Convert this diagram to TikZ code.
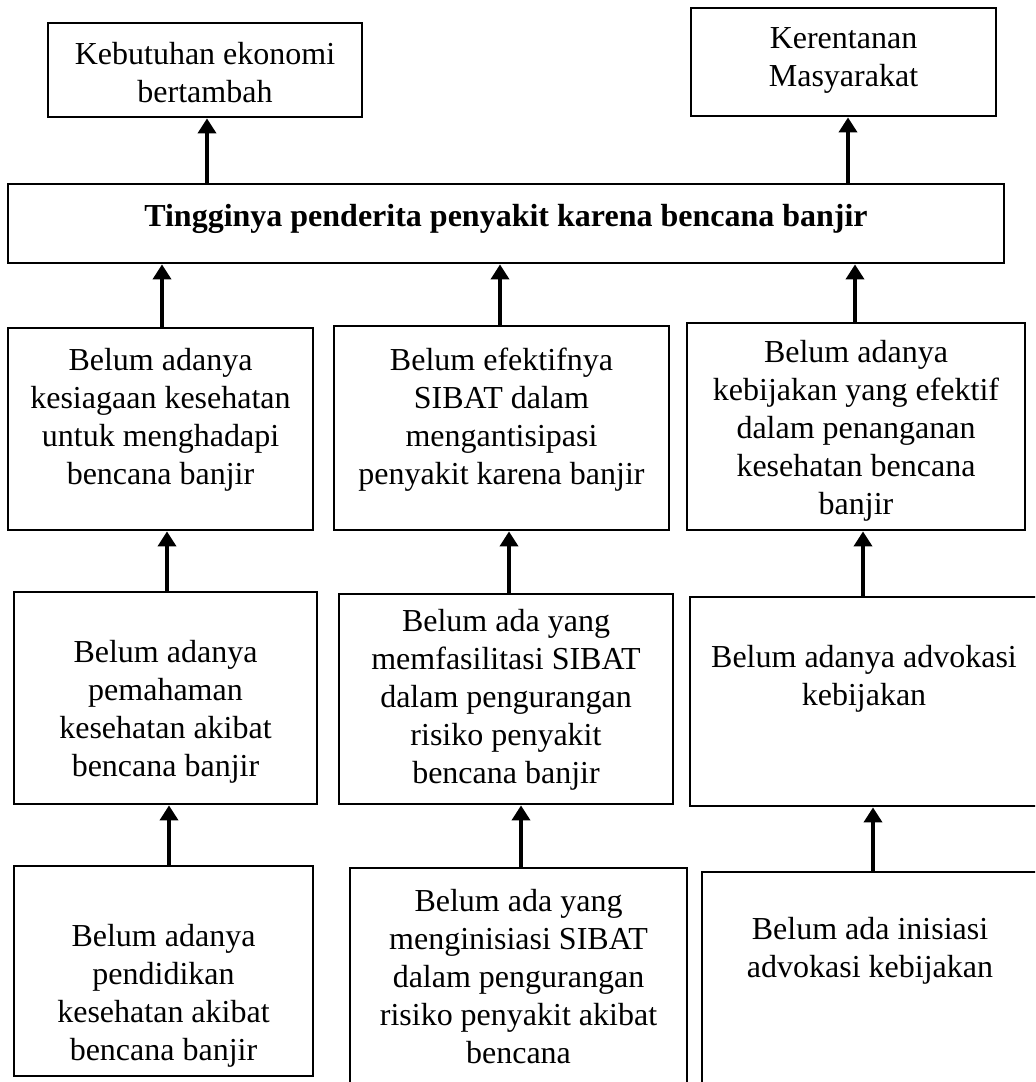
\documentclass[tikz,border=0pt]{standalone}
\usepackage{fontspec}
\setmainfont{Liberation Serif}
\usetikzlibrary{arrows.meta,fit}
\begin{document}
\begin{tikzpicture}[x=0.5pt,y=-0.5pt,
  box/.style={draw, line width=1.4pt, inner sep=0pt, fill=white},
  txt/.style={align=center, inner sep=0pt, font=\fontsize{16}{19}\selectfont},
  arr/.style={line width=1.8pt, -{Triangle[width=9pt,length=7.5pt]}}]
\clip (0,0) rectangle (1035,1082);
\fill[white] (0,0) rectangle (1035,1082);

% top row
\node[box, fit={(48,23)(362,117)}] (tl) {};
\node[txt] (tlt) at (205,73) {Kebutuhan ekonomi\\bertambah};
\node[box, fit={(691,8)(996,116)}] (tr) {};
\node[txt] (trt) at (843.5,60) {Kerentanan\\Masyarakat};

% main problem
\node[box, fit={(8,184)(1004,263)}] (main) {};
\node[txt, font=\fontsize{16}{19}\selectfont\bfseries] (maint) at (506,219) {Tingginya penderita penyakit karena bencana banjir};

% row 2
\node[box, fit={(8,328)(313,530)}] (b1) {};
\node[txt] (b1t) at (160.5,420) {Belum adanya\\kesiagaan kesehatan\\untuk menghadapi\\bencana banjir};
\node[box, fit={(334,326)(669,530)}] (b2) {};
\node[txt] (b2t) at (501.5,420) {Belum efektifnya\\SIBAT dalam\\mengantisipasi\\penyakit karena banjir};
\node[box, fit={(687,323)(1025,530)}] (b3) {};
\node[txt] (b3t) at (856,431) {Belum adanya\\kebijakan yang efektif\\dalam penanganan\\kesehatan bencana\\banjir};

% row 3
\node[box, fit={(14,592)(317,804)}] (c1) {};
\node[txt] (c1t) at (165.5,712) {Belum adanya\\pemahaman\\kesehatan akibat\\bencana banjir};
\node[box, fit={(339,594)(673,804)}] (c2) {};
\node[txt] (c2t) at (506,700) {Belum ada yang\\memfasilitasi SIBAT\\dalam pengurangan\\risiko penyakit\\bencana banjir};
\node[box, fit={(690,597)(1038,806)}] (c3) {};
\node[txt] (c3t) at (864,679) {Belum adanya advokasi\\kebijakan};

% row 4
\node[box, fit={(14,866)(313,1076)}] (d1) {};
\node[txt] (d1t) at (163.5,996) {Belum adanya\\pendidikan\\kesehatan akibat\\bencana banjir};
\node[box, fit={(350,868)(687,1090)}] (d2) {};
\node[txt] (d2t) at (518.5,977) {Belum ada yang\\menginisiasi SIBAT\\dalam pengurangan\\risiko penyakit akibat\\bencana};
\node[box, fit={(702,872)(1038,1090)}] (d3) {};
\node[txt] (d3t) at (870,951) {Belum ada inisiasi\\advokasi kebijakan};

% arrows
\draw[arr] (main.north -| 207,0) -- (tl.south -| 207,0);
\draw[arr] (main.north -| 848,0) -- (tr.south -| 848,0);
\draw[arr] (b1.north -| 162,0) -- (main.south -| 162,0);
\draw[arr] (b2.north -| 500,0) -- (main.south -| 500,0);
\draw[arr] (b3.north -| 855,0) -- (main.south -| 855,0);
\draw[arr] (c1.north -| 167,0) -- (b1.south -| 167,0);
\draw[arr] (c2.north -| 509,0) -- (b2.south -| 509,0);
\draw[arr] (c3.north -| 863,0) -- (b3.south -| 863,0);
\draw[arr] (d1.north -| 169,0) -- (c1.south -| 169,0);
\draw[arr] (d2.north -| 521,0) -- (c2.south -| 521,0);
\draw[arr] (d3.north -| 873,0) -- (c3.south -| 873,0);
\end{tikzpicture}
\end{document}
